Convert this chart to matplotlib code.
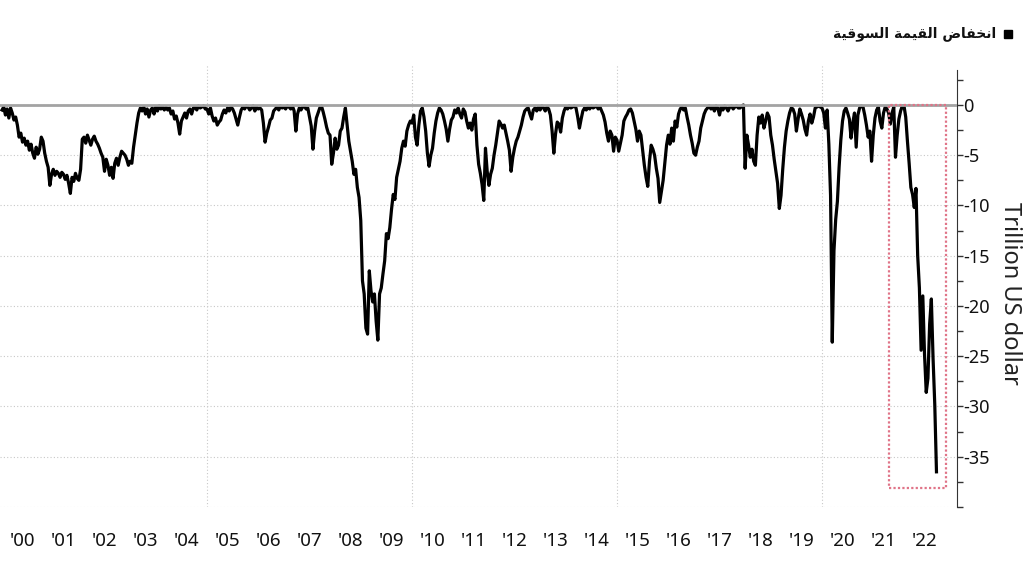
"""Market value drawdown since 2000, trillion US dollars."""

import numpy as np
import matplotlib

matplotlib.use("Agg")
import matplotlib.pyplot as plt  # noqa: E402
from matplotlib.patches import Rectangle  # noqa: E402
from matplotlib.ticker import MultipleLocator  # noqa: E402


FIRST_YEAR = 2000
STEPS_PER_YEAR = 24  # two readings a month

# drawdown from the running peak, trillion US dollars
dd_2000 = [-0.5, -0.2, -1.0, -0.4, -1.3, -0.3, -0.8, -1.5, -1.2, -2.0, -3.2, -2.8,
           -3.7, -3.3, -4.0, -3.6, -4.5, -3.9, -4.8, -5.3, -4.2, -4.9, -4.4, -3.2]
dd_2001 = [-3.6, -4.8, -5.6, -6.2, -8.0, -6.9, -6.4, -7.0, -6.6, -6.8, -7.2, -6.7,
           -6.9, -7.4, -7.0, -7.8, -8.8, -7.2, -7.6, -6.8, -7.3, -7.5, -6.4, -3.4]
dd_2002 = [-3.2, -3.8, -3.0, -3.5, -4.0, -3.4, -3.1, -3.6, -3.9, -4.3, -4.8, -5.2,
           -6.6, -5.4, -6.0, -7.0, -6.2, -7.3, -5.8, -5.3, -6.0, -5.2, -4.6, -4.8]
dd_2003 = [-5.0, -5.4, -6.0, -5.6, -5.8, -4.2, -3.0, -1.8, -0.8, -0.3, -0.6, -0.2,
           -0.9, -0.4, -1.2, -0.5, -0.3, -0.9, -0.2, -0.6, -0.1, -0.4, -0.2, -0.5]
dd_2004 = [-0.2, -0.5, -0.3, -0.9, -0.6, -1.4, -1.1, -1.8, -2.9, -1.6, -1.2, -0.8,
           -1.3, -0.6, -0.4, -0.9, -0.3, -0.2, -0.5, -0.1, -0.3, -0.2, -0.1, -0.4]
dd_2005 = [-0.4, -0.9, -0.3, -1.1, -1.6, -1.3, -2.0, -1.7, -1.5, -0.9, -0.5, -0.8,
           -0.3, -0.6, -0.2, -0.4, -0.8, -1.4, -2.0, -1.2, -0.5, -0.2, -0.4, -0.1]
dd_2006 = [-0.2, -0.5, -0.3, -0.1, -0.6, -0.2, -0.4, -0.3, -0.5, -1.8, -3.7, -2.8,
           -2.2, -1.5, -1.3, -0.6, -0.4, -0.2, -0.5, -0.1, -0.3, -0.2, -0.4, -0.1]
dd_2007 = [-0.2, -0.4, -0.1, -0.6, -2.6, -0.9, -0.3, -0.5, -0.2, -0.1, -0.4, -0.3,
           -1.2, -2.1, -4.4, -2.6, -1.3, -0.8, -0.3, -0.1, -0.7, -1.4, -2.2, -2.8]
dd_2008 = [-3.0, -5.9, -4.8, -3.3, -4.4, -4.0, -2.6, -2.3, -1.2, -0.3, -2.0, -3.6,
           -4.6, -5.6, -6.9, -6.4, -8.2, -9.2, -11.5, -17.5, -18.8, -22.2, -22.8, -16.5]
dd_2009 = [-18.5, -19.6, -18.8, -21.5, -23.4, -18.8, -18.2, -16.8, -15.5, -12.8, -13.3, -12.2,
           -10.4, -8.9, -9.4, -7.2, -6.4, -5.6, -4.3, -3.6, -4.1, -2.6, -2.0, -1.6]
dd_2010 = [-1.8, -1.0, -3.2, -4.0, -2.0, -0.6, -0.3, -1.2, -2.6, -4.8, -6.1, -5.0,
           -4.3, -2.8, -1.6, -0.8, -0.3, -0.5, -0.9, -1.6, -2.4, -3.6, -2.4, -1.5]
dd_2011 = [-1.2, -0.5, -0.8, -0.3, -0.9, -1.3, -0.4, -0.7, -1.6, -2.3, -1.8, -2.5,
           -1.4, -0.9, -4.0, -5.9, -6.8, -7.9, -9.5, -4.3, -6.6, -8.0, -6.9, -6.3]
dd_2012 = [-5.0, -4.0, -2.8, -1.6, -1.9, -2.3, -2.0, -2.8, -3.6, -4.5, -6.6, -5.2,
           -4.3, -3.6, -3.2, -2.6, -2.0, -1.2, -0.6, -0.4, -0.3, -0.9, -1.4, -0.5]
dd_2013 = [-0.3, -0.6, -0.2, -0.5, -0.1, -0.3, -0.6, -0.2, -0.4, -1.0, -2.6, -4.8,
           -2.9, -1.7, -1.9, -2.7, -1.3, -0.6, -0.2, -0.4, -0.1, -0.3, -0.2, -0.1]
dd_2014 = [-0.3, -1.2, -2.3, -1.4, -0.6, -0.3, -0.5, -0.2, -0.4, -0.1, -0.3, -0.2,
           -0.1, -0.4, -0.2, -0.6, -1.0, -1.7, -2.8, -3.6, -2.6, -3.0, -4.6, -3.2]
dd_2015 = [-3.5, -4.6, -3.8, -3.0, -1.6, -1.2, -0.9, -0.5, -0.4, -0.8, -1.6, -2.4,
           -3.6, -2.6, -3.0, -4.5, -6.0, -7.2, -8.1, -5.6, -4.0, -4.4, -5.0, -6.3]
dd_2016 = [-7.3, -9.7, -8.6, -7.5, -5.8, -4.0, -3.0, -3.9, -2.3, -3.6, -1.6, -2.2,
           -0.9, -0.4, -0.2, -0.5, -0.3, -1.2, -2.0, -3.0, -3.8, -4.8, -5.0, -4.2]
dd_2017 = [-3.6, -2.3, -1.6, -0.9, -0.5, -0.3, -0.1, -0.4, -0.2, -0.6, -0.1, -0.3,
           -1.0, -0.2, -0.5, -0.1, -0.3, -0.6, -0.2, -0.1, -0.4, -0.2, -0.1, -0.3]
dd_2018 = [-0.3, -0.1, 0.0, -6.3, -3.0, -4.0, -5.2, -4.4, -5.6, -6.0, -3.0, -1.2,
           -1.8, -1.0, -2.3, -1.6, -0.8, -1.2, -3.0, -4.0, -5.4, -6.6, -7.8, -10.3]
dd_2019 = [-9.0, -6.4, -4.2, -2.6, -1.6, -0.8, -0.3, -0.4, -0.9, -2.6, -1.4, -0.4,
           -0.9, -1.5, -2.4, -3.0, -1.6, -0.9, -1.8, -1.2, -0.3, -0.2, -0.1, -0.2]
dd_2020 = [-0.3, -0.8, -2.3, -0.5, -3.9, -9.0, -23.6, -14.5, -11.4, -9.6, -6.2, -3.5,
           -1.6, -0.6, -0.3, -0.8, -1.4, -3.3, -1.8, -0.8, -4.2, -1.0, -0.3, -0.1]
dd_2021 = [-0.2, -1.0, -2.0, -3.2, -2.6, -5.6, -3.0, -1.3, -0.5, -0.2, -1.6, -2.3,
           -0.8, -0.2, -0.4, -0.8, -1.9, -0.8, -0.2, -5.2, -3.0, -1.4, -0.6, -0.1]
dd_2022 = [-0.1, -1.2, -3.6, -5.8, -8.2, -8.9, -10.2, -8.3, -15.0, -18.2, -24.4, -19.0,
           -24.8, -28.6, -27.2, -21.8, -19.3, -25.2, -29.8, -36.5]

YEARLY_DRAWDOWN = (
    dd_2000, dd_2001, dd_2002, dd_2003, dd_2004, dd_2005, dd_2006, dd_2007,
    dd_2008, dd_2009, dd_2010, dd_2011, dd_2012, dd_2013, dd_2014, dd_2015,
    dd_2016, dd_2017, dd_2018, dd_2019, dd_2020, dd_2021, dd_2022,
)

YEAR_LABELS = ["'00", "'01", "'02", "'03", "'04", "'05", "'06", "'07", "'08",
               "'09", "'10", "'11", "'12", "'13", "'14", "'15", "'16", "'17",
               "'18", "'19", "'20", "'21", "'22"]
GRID_YEARS = [2005, 2010, 2015, 2020]
Y_TICKS = [0, -5, -10, -15, -20, -25, -30, -35, -40]
Y_TICK_LABELS = ["0", "-5", "-10", "-15", "-20", "-25", "-30", "-35", ""]

# dotted box round the 2022 slide
HIGHLIGHT_START = 2021.64
HIGHLIGHT_END = 2023.02
HIGHLIGHT_BOTTOM = -38.1

LEGEND_LABEL = "انخفاض القيمة السوقية"
Y_LABEL = "Trillion US dollar"

# isolated, final, initial, medial presentation forms
ARABIC_FORMS = {
    "ا": ("\ufe8d", "\ufe8e", None, None),
    "ن": ("\ufee5", "\ufee6", "\ufee7", "\ufee8"),
    "خ": ("\ufea5", "\ufea6", "\ufea7", "\ufea8"),
    "ف": ("\ufed1", "\ufed2", "\ufed3", "\ufed4"),
    "ض": ("\ufebd", "\ufebe", "\ufebf", "\ufec0"),
    "ل": ("\ufedd", "\ufede", "\ufedf", "\ufee0"),
    "ق": ("\ufed5", "\ufed6", "\ufed7", "\ufed8"),
    "ي": ("\ufef1", "\ufef2", "\ufef3", "\ufef4"),
    "م": ("\ufee1", "\ufee2", "\ufee3", "\ufee4"),
    "ة": ("\ufe93", "\ufe94", None, None),
    "س": ("\ufeb1", "\ufeb2", "\ufeb3", "\ufeb4"),
    "و": ("\ufeed", "\ufeee", None, None),
}
NO_LEFT_JOIN = set("اوة")


def shape_arabic(text):
    """Pick joined letter forms and put the string in visual order."""
    glyphs = []
    for i, ch in enumerate(text):
        if ch not in ARABIC_FORMS:
            glyphs.append(ch)
            continue
        prev = text[i - 1] if i > 0 else " "
        nxt = text[i + 1] if i + 1 < len(text) else " "
        joins_prev = prev in ARABIC_FORMS and prev not in NO_LEFT_JOIN
        joins_next = nxt in ARABIC_FORMS and ch not in NO_LEFT_JOIN
        iso, fin, ini, med = ARABIC_FORMS[ch]
        if joins_prev and joins_next:
            glyphs.append(med)
        elif joins_prev:
            glyphs.append(fin)
        elif joins_next:
            glyphs.append(ini)
        else:
            glyphs.append(iso)
    return "".join(reversed(glyphs))


def main():
    values = np.concatenate([np.asarray(v, dtype=float) for v in YEARLY_DRAWDOWN])
    t = FIRST_YEAR + np.arange(len(values)) / STEPS_PER_YEAR

    fig = plt.figure(figsize=(10.24, 5.76), dpi=100)
    ax = fig.add_axes([0.0, 0.1198, 0.9346, 0.7674])

    ax.plot(t, values, color="black", lw=2.3, zorder=2)
    ax.axhline(0, color="#a3a3a3", lw=2.0, zorder=3)
    for year in GRID_YEARS:
        ax.axvline(year, color="#c8c8c8", lw=0.8, ls=(0, (1, 2)), zorder=1)

    ax.add_patch(Rectangle(
        (HIGHLIGHT_START, HIGHLIGHT_BOTTOM),
        HIGHLIGHT_END - HIGHLIGHT_START, -HIGHLIGHT_BOTTOM,
        fill=False, edgecolor="#e07488", lw=1.6, ls=(0, (1, 1)), zorder=4,
    ))

    ax.set_xlim(1999.951, 2023.293)
    ax.set_ylim(-40.0, 3.98)

    ax.set_xticks(FIRST_YEAR + 0.5 + np.arange(len(YEAR_LABELS)))
    ax.set_xticklabels(YEAR_LABELS, fontsize=13.5, family="Noto Sans", color="#111111")
    ax.tick_params(axis="x", length=0, pad=18)

    ax.yaxis.tick_right()
    ax.set_yticks(Y_TICKS)
    ax.set_yticklabels(Y_TICK_LABELS, fontsize=13, family="Noto Sans", color="#111111")
    ax.yaxis.set_minor_locator(MultipleLocator(2.5))
    ax.tick_params(axis="y", which="both", direction="out", length=4,
                   width=1, color="#333333", pad=0.5)
    ax.grid(axis="y", which="major", color="#c8c8c8", lw=0.8, ls=(0, (1, 2)))

    for side in ("top", "left", "bottom"):
        ax.spines[side].set_visible(False)
    ax.spines["right"].set_color("#333333")
    ax.spines["right"].set_bounds(-40.0, 3.5)

    ax.set_ylabel(Y_LABEL, rotation=-90, fontsize=17, family="Noto Sans",
                  color="#222222", va="center")
    ax.yaxis.set_label_position("right")
    ax.yaxis.set_label_coords(1.068, 0.484)

    fig.add_artist(Rectangle((1004 / 1024, 1 - 38 / 576), 8 / 1024, 8 / 576,
                             transform=fig.transFigure, color="black"))
    fig.text(996 / 1024, 1 - 34 / 576, shape_arabic(LEGEND_LABEL),
             ha="right", va="center", fontsize=10, fontweight="bold",
             family="DejaVu Sans", color="#111111")

    fig.savefig("out.png", dpi=100, facecolor="white")


if __name__ == "__main__":
    main()
